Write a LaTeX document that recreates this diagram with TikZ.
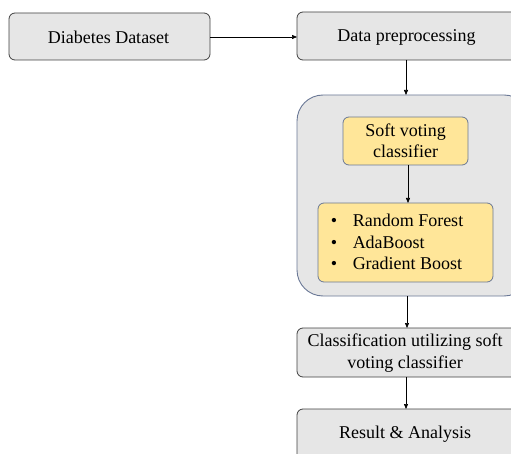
\documentclass[tikz,border=0pt]{standalone}
\usepackage{fontspec}
\setmainfont{Liberation Serif}
\usetikzlibrary{arrows.meta}
\definecolor{boxgray}{HTML}{E6E6E6}
\definecolor{boxline}{HTML}{404040}
\definecolor{panelline}{HTML}{6A7896}
\definecolor{notefill}{HTML}{FFE699}
\tikzset{
  flowbox/.style={draw=boxline, fill=boxgray, rounded corners=6pt, line width=0.8pt},
  panel/.style={draw=panelline, fill=boxgray, rounded corners=26pt, line width=0.9pt},
  notebox/.style={draw=panelline, fill=notefill, rounded corners=6pt, line width=0.8pt},
  label/.style={font=\fontsize{18}{21.5}\selectfont, align=center, inner sep=0pt},
  flow/.style={-{Triangle[length=5pt,width=4pt]}, line width=0.6pt, black}
}
\begin{document}
\begin{tikzpicture}[x=1pt,y=-1pt]
\useasboundingbox (0,0) rectangle (511,454);
\clip (0,0) rectangle (511,454);
% boxes
\draw[flowbox] (9,13) rectangle (210,60);
\node[label] (ds) at (108.5,37) {Diabetes Dataset};
\draw[flowbox] (297,12) rectangle (530,60);
\node[label] (pre) at (406.5,37) {Data preprocessing};
\draw[panel] (297,95) rectangle (530,296);
\draw[notebox] (343,117) rectangle (468,165);
\node[label] (svc) at (405.5,141) {Soft voting\\classifier};
\draw[notebox] (318,203) rectangle (493,282);
\node[label, align=left] (list) at (397,242) {%
  \makebox[22pt][l]{\textbullet}Random Forest\\
  \makebox[22pt][l]{\textbullet}AdaBoost\\
  \makebox[22pt][l]{\textbullet}Gradient Boost};
\draw[flowbox] (297,328) rectangle (530,377);
\node[label] (cls) at (405,353) {Classification utilizing soft\\voting classifier};
\draw[flowbox] (297,409) rectangle (530,470);
\node[label] (res) at (405,434) {Result \& Analysis};
% anchor points for connectors
\coordinate (dsE) at (210,37);
\coordinate (preW) at (297,37);
\coordinate (preS) at (406,60);
\coordinate (panN) at (406,95);
\coordinate (svcS) at (408,165);
\coordinate (listN) at (408,203);
\coordinate (panS) at (407,296);
\coordinate (clsN) at (407,328);
\coordinate (clsS) at (406,377);
\coordinate (resN) at (406,409);
\draw[flow] (dsE) -- (preW);
\draw[flow] (preS) -- (panN);
\draw[flow] (svcS) -- (listN);
\draw[flow] (panS) -- (clsN);
\draw[flow] (clsS) -- (resN);
\end{tikzpicture}
\end{document}
